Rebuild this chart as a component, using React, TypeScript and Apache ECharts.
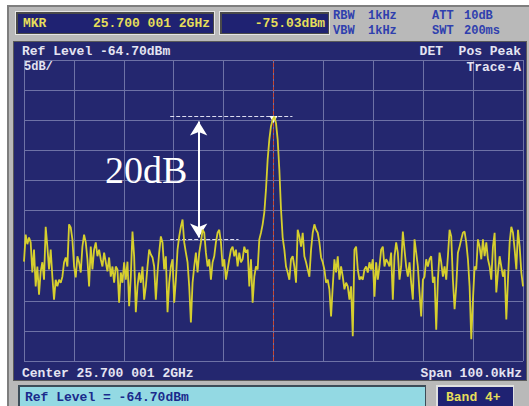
import React, { useEffect, useRef } from "react";
import * as echarts from "echarts";

// Instrument settings (from the screen)
const REF_LEVEL = -64.7; // dBm, top of graticule
const DB_PER_DIV = 5;
const DIVISIONS = 10;
const SPAN_KHZ = 100;

// Trace A, dBm, 300 points across the span
const traceDbm = [
  -98.2, -93.7, -95.3, -94.2, -95.0, -100.0, -96.2, -102.3, -99.0, -103.7,
  -99.8, -98.3, -101.2, -92.4, -95.7, -99.5, -96.2, -100.7, -104.5, -101.2,
  -102.3, -101.2, -101.7, -100.7, -98.3, -97.5, -99.0, -92.0, -92.5, -94.5,
  -99.0, -100.8, -97.3, -98.3, -100.0, -95.7, -93.7, -95.0, -97.8, -102.3,
  -95.7, -99.5, -96.2, -95.0, -97.3, -96.2, -97.8, -99.0, -96.7, -98.3,
  -99.8, -97.5, -100.7, -99.0, -101.7, -99.0, -99.5, -105.0, -100.0, -101.7,
  -98.3, -101.2, -98.2, -105.6, -100.7, -93.2, -97.3, -106.6, -102.3, -100.0,
  -101.7, -99.0, -104.5, -102.3, -99.0, -96.2, -97.0, -97.5, -99.0, -104.5,
  -100.0, -96.7, -94.0, -95.0, -99.5, -97.3, -106.6, -101.7, -99.0, -97.8,
  -105.0, -101.2, -96.2, -94.0, -92.4, -91.2, -95.0, -96.7, -98.3, -102.3,
  -108.3, -101.7, -99.0, -96.7, -100.0, -96.7, -95.0, -92.9, -93.4, -96.7,
  -99.0, -97.8, -101.2, -98.3, -97.3, -95.0, -93.4, -92.9, -95.0, -99.0,
  -97.8, -101.2, -99.5, -97.8, -96.2, -95.7, -97.3, -96.2, -99.0, -96.7,
  -98.3, -97.8, -95.7, -96.7, -96.2, -102.3, -97.8, -105.0, -100.7, -99.0,
  -99.5, -94.5, -93.4, -92.0,
  // carrier
  -90.0, -86.2, -81.2, -77.9, -75.7, -74.6, -74.1, -75.2, -77.9, -82.9,
  -89.5, -94.2, -96.2,
  // right side
  -99.0, -100.0, -101.2, -97.8, -97.3, -99.0, -101.7, -92.9, -94.0, -95.7,
  -93.4, -97.3, -98.3, -99.5, -100.7, -96.2, -93.4, -92.0, -92.9, -93.4,
  -95.0, -97.5, -98.3, -99.5, -101.7, -101.2, -102.8, -107.3, -102.3, -97.8,
  -100.0, -97.3, -101.2, -99.0, -100.7, -102.8, -101.7, -102.3, -104.5, -102.3,
  -110.6, -96.2, -95.7, -99.5, -101.2, -100.7, -101.2, -99.5, -99.0, -100.0,
  -98.3, -99.5, -97.8, -104.0, -98.3, -101.2, -99.0, -96.2, -95.7, -99.0,
  -97.8, -98.3, -99.0, -96.7, -104.5, -97.3, -95.0, -96.7, -101.2, -99.0,
  -93.2, -96.2, -99.0, -100.7, -98.3, -101.7, -104.5, -94.5, -96.7, -99.0,
  -103.3, -107.3, -101.2, -100.7, -97.8, -99.0, -97.8, -97.3, -101.7, -100.7,
  -109.5, -101.2, -96.7, -98.3, -100.7, -99.0, -101.2, -97.3, -92.9, -94.0,
  -101.2, -106.1, -102.3, -96.7, -95.7, -94.5, -93.4, -93.2, -95.0, -97.8,
  -102.3, -111.1, -104.5, -99.0, -99.5, -94.5, -95.7, -97.8, -94.5, -97.3,
  -95.0, -97.8, -99.0, -101.2, -95.7, -93.4, -103.3, -100.0, -97.3, -99.0,
  -100.7, -99.5, -107.8, -101.2, -95.0, -92.4, -93.4, -96.2, -99.5, -92.9,
  -95.7, -100.0, -102.3,
];

// Annotation levels (dBm) and positions (kHz offset from center)
const PEAK_LEVEL = -74.1;
const NOISE_LEVEL = -94.5;
const ARROW_FREQ = -15;
const UPPER_LINE = [-20.7, 3.8];
const LOWER_LINE = [-20.7, -7.0];

// Screen texts
const MKR_FREQ = "25.700 001 2GHz";
const MKR_LEVEL = "-75.03dBm";
const REF_TEXT = "Ref Level -64.70dBm";
const SCALE_TEXT = "5dB/";
const DET_TEXT = "DET  Pos Peak";
const TRACE_TEXT = "Trace-A";
const CENTER_TEXT = "Center 25.700 001 2GHz";
const SPAN_TEXT = "Span 100.0kHz";
const ENTRY_TEXT = "Ref Level = -64.70dBm";
const BAND_TEXT = "Band 4+";
const DELTA_TEXT = "20dB";

const MONO = "'Liberation Mono', 'DejaVu Sans Mono', monospace";
const SCREEN = "#24276f";
const SCR_TXT = "#e4e4f2";
const YEL = "#e6de5a";
const BLUE_TXT = "#2f3fae";

export default function App() {
  const ref = useRef<HTMLDivElement>(null);
  useEffect(() => {
    if (!ref.current) return;
    const chart = echarts.init(ref.current, null, { renderer: "svg" });
    const n = traceDbm.length;
    const data = traceDbm.map((v, i) => [
      -SPAN_KHZ / 2 + (i * SPAN_KHZ) / (n - 1),
      v - REF_LEVEL,
    ]);
    const rel = (v: number) => v - REF_LEVEL;

    const txt = (
      x: number,
      y: number,
      text: string,
      fill: string,
      align: string = "left",
      size = 13,
      extra: any = {}
    ) => ({
      type: "text",
      x,
      y,
      z: 50,
      style: {
        text,
        fill,
        font: `bold ${size}px ${MONO}`,
        textAlign: align,
        textVerticalAlign: "middle",
        ...extra,
      },
    });

    const graphic: any[] = [
      // outer frame
      { type: "rect", z: -20, shape: { x: 7, y: 5, width: 522, height: 401 }, style: { fill: "#7e7e7e" } },
      { type: "rect", z: -19, shape: { x: 9, y: 7, width: 520, height: 399 }, style: { fill: "#b9b9b9" } },
      // marker boxes
      { type: "rect", z: -18, shape: { x: 15, y: 11, width: 200, height: 24 }, style: { fill: "#e6e6e6" } },
      { type: "rect", z: -17, shape: { x: 16, y: 12, width: 198, height: 22 }, style: { fill: "#4a4a4a" } },
      { type: "rect", z: -16, shape: { x: 18, y: 14, width: 195, height: 19 }, style: { fill: "#1f2272" } },
      { type: "rect", z: -18, shape: { x: 219, y: 11, width: 111, height: 24 }, style: { fill: "#e6e6e6" } },
      { type: "rect", z: -17, shape: { x: 220, y: 12, width: 109, height: 22 }, style: { fill: "#4a4a4a" } },
      { type: "rect", z: -16, shape: { x: 222, y: 14, width: 106, height: 19 }, style: { fill: "#1f2272" } },
      // screen
      { type: "rect", z: -15, shape: { x: 13, y: 41, width: 514, height: 340 }, style: { fill: "#5a5a5a" } },
      { type: "rect", z: -14, shape: { x: 14, y: 42, width: 512, height: 338 }, style: { fill: SCREEN } },
      // entry line
      { type: "rect", z: -15, shape: { x: 18, y: 385, width: 408, height: 21 }, style: { fill: "#3c4c58" } },
      { type: "rect", z: -14, shape: { x: 20, y: 387, width: 405, height: 19 }, style: { fill: "#93d9e3" } },
      { type: "rect", z: -15, shape: { x: 436, y: 385, width: 78, height: 21 }, style: { fill: "#e0e0e0" } },
      { type: "rect", z: -14, shape: { x: 438, y: 387, width: 75, height: 19 }, style: { fill: "#1f2272" } },
      // texts
      txt(23, 23.5, "MKR", YEL),
      txt(210, 23.5, MKR_FREQ, YEL, "right"),
      txt(325, 23.5, MKR_LEVEL, YEL, "right"),
      txt(333, 16, "RBW", BLUE_TXT, "left", 12),
      txt(368, 16, "1kHz", BLUE_TXT, "left", 12),
      txt(333, 31, "VBW", BLUE_TXT, "left", 12),
      txt(368, 31, "1kHz", BLUE_TXT, "left", 12),
      txt(432, 16, "ATT", BLUE_TXT, "left", 12),
      txt(464, 16, "10dB", BLUE_TXT, "left", 12),
      txt(432, 31, "SWT", BLUE_TXT, "left", 12),
      txt(464, 31, "200ms", BLUE_TXT, "left", 12),
      txt(22, 51, REF_TEXT, SCR_TXT),
      txt(521, 51, DET_TEXT, SCR_TXT, "right"),
      txt(24, 67, SCALE_TEXT, SCR_TXT, "left", 12),
      txt(521, 67.5, TRACE_TEXT, SCR_TXT, "right"),
      txt(22, 373, CENTER_TEXT, SCR_TXT),
      txt(522, 373, SPAN_TEXT, SCR_TXT, "right"),
      txt(25, 397, ENTRY_TEXT, "#1a2a8c"),
      txt(446, 397, BAND_TEXT, YEL),
      {
        type: "text",
        x: 105,
        y: 170,
        z: 50,
        style: {
          text: DELTA_TEXT,
          fill: "#ffffff",
          font: "38px 'Liberation Serif', 'DejaVu Serif', serif",
          textAlign: "left",
          textVerticalAlign: "middle",
        },
      },
    ];

    chart.setOption({
      animation: false,
      backgroundColor: "#ffffff",
      graphic,
      grid: { left: 24, top: 60, width: 499, height: 301, show: false },
      xAxis: {
        type: "value",
        min: -SPAN_KHZ / 2,
        max: SPAN_KHZ / 2,
        interval: SPAN_KHZ / DIVISIONS,
        axisLine: { show: false },
        axisTick: { show: false },
        axisLabel: { show: false },
        splitLine: { show: true, lineStyle: { color: "#6e72a6", width: 1 } },
      },
      yAxis: {
        type: "value",
        min: -DB_PER_DIV * DIVISIONS,
        max: 0,
        interval: DB_PER_DIV,
        axisLine: { show: false },
        axisTick: { show: false },
        axisLabel: { show: false },
        splitLine: { show: true, lineStyle: { color: "#6e72a6", width: 1 } },
      },
      series: [
        {
          type: "line",
          data,
          showSymbol: false,
          symbol: "none",
          lineStyle: { color: "#d6cf2e", width: 1.8 },
          z: 5,
          markLine: {
            silent: true,
            symbol: "none",
            label: { show: false },
            data: [
              [
                { coord: [0, -DB_PER_DIV * DIVISIONS], lineStyle: { color: "#c8452e", type: "dashed", width: 1 } },
                { coord: [0, 0] },
              ],
              [
                { coord: [UPPER_LINE[0], rel(PEAK_LEVEL)], lineStyle: { color: "#dcdcf0", type: "dashed", width: 1 } },
                { coord: [UPPER_LINE[1], rel(PEAK_LEVEL)] },
              ],
              [
                { coord: [LOWER_LINE[0], rel(NOISE_LEVEL)], lineStyle: { color: "#dcdcf0", type: "dashed", width: 1 } },
                { coord: [LOWER_LINE[1], rel(NOISE_LEVEL)] },
              ],
            ],
          },
        },
        {
          type: "line",
          data: [],
          z: 10,
          markLine: {
            silent: true,
            symbol: ["arrow", "arrow"],
            symbolSize: [13, 14],
            label: { show: false },
            lineStyle: { color: "#ffffff", type: "solid", width: 2 },
            data: [
              [
                { coord: [ARROW_FREQ, rel(PEAK_LEVEL) - 0.8] },
                { coord: [ARROW_FREQ, rel(NOISE_LEVEL) + 0.3] },
              ],
            ],
          },
          markPoint: {
            silent: true,
            symbol: "triangle",
            symbolSize: [8, 7],
            symbolRotate: 180,
            symbolOffset: [0, 3],
            itemStyle: { color: "#ffffff" },
            label: { show: false },
            data: [{ coord: [0, rel(PEAK_LEVEL)] }],
          },
        },
      ],
    });
    return () => chart.dispose();
  }, []);
  return (
    <div
      ref={ref}
      style={{ position: "fixed", left: 0, top: 0, width: 529, height: 406 }}
    />
  );
}
